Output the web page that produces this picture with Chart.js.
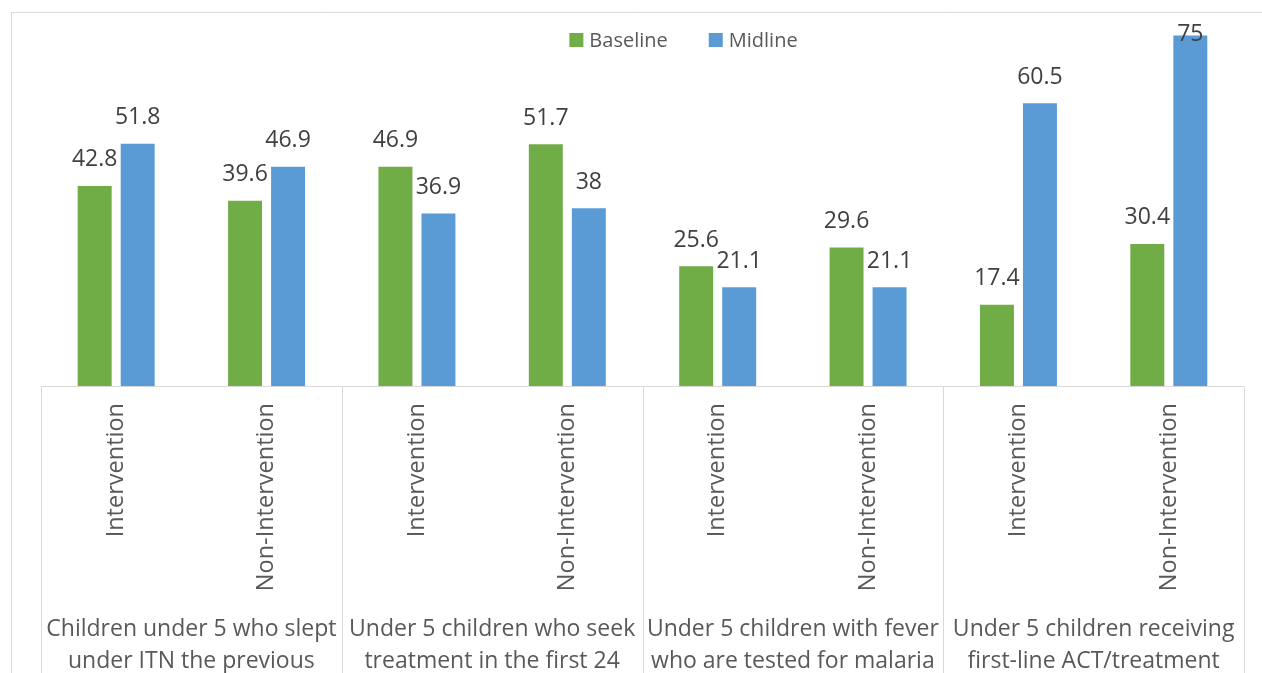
<!DOCTYPE html>
<html>
<head>
<meta charset="utf-8">
<script src="https://cdn.jsdelivr.net/npm/chart.js@4.4.1/dist/chart.umd.min.js"></script>
<style>
  html, body { margin: 0; padding: 0; background: #ffffff; }
  #wrap { width: 1262px; height: 673px; }
</style>
</head>
<body>
<div id="wrap"><canvas id="c" width="1262" height="673"></canvas></div>
<script>
// Indicator groups (two visible lines of each wrapped group title)
const groupTitles = [
  ['Children under 5 who slept', 'under ITN the previous'],
  ['Under 5 children who seek', 'treatment in the first 24'],
  ['Under 5 children with fever', 'who are tested for malaria'],
  ['Under 5 children receiving', 'first-line ACT/treatment']
];
// Area type within each group
const areaTypes = ['Intervention', 'Non-Intervention'];

// Percentages per bar (group-major order: Intervention, Non-Intervention)
const baseline = [42.8, 39.6, 46.9, 51.7, 25.6, 29.6, 17.4, 30.4];
const midline  = [51.8, 46.9, 36.9, 38, 21.1, 21.1, 60.5, 75];

const categories = [];
groupTitles.forEach(() => areaTypes.forEach(t => categories.push(t)));

const FONT = "'Open Sans', 'DejaVu Sans', sans-serif";
const LINE = '#D9D9D9';

// Frame, axis line and group separators
const framePlugin = {
  id: 'frame',
  beforeDraw(chart) {
    const ctx = chart.ctx;
    const area = chart.chartArea;
    const x = chart.scales.x;
    ctx.save();
    ctx.strokeStyle = LINE;
    ctx.lineWidth = 1;
    // outer frame
    ctx.beginPath();
    ctx.moveTo(11.5, chart.height);
    ctx.lineTo(11.5, 12.5);
    ctx.lineTo(chart.width, 12.5);
    ctx.stroke();
    // category axis line
    const yb = Math.round(area.bottom) + 0.5;
    ctx.beginPath();
    ctx.moveTo(area.left, yb);
    ctx.lineTo(area.right, yb);
    // separators between groups
    const per = areaTypes.length;
    for (let g = 0; g <= groupTitles.length; g++) {
      const idx = g * per;
      let px;
      if (idx === 0) px = area.left;
      else if (idx >= categories.length) px = area.right;
      else px = (x.getPixelForValue(idx - 1) + x.getPixelForValue(idx)) / 2;
      px = Math.round(px) + 0.5;
      ctx.moveTo(px, yb);
      ctx.lineTo(px, chart.height);
    }
    ctx.stroke();
    ctx.restore();
  }
};

// Legend drawn inside the plot, near its top
const legendPlugin = {
  id: 'insideLegend',
  afterDraw(chart) {
    const ctx = chart.ctx;
    const box = 14, gap = 6, spacing = 41, cx = 683.5, cy = 40;
    ctx.save();
    ctx.font = '20px ' + FONT;
    const items = chart.data.datasets.map(ds => ({
      text: ds.label, color: ds.backgroundColor, w: ctx.measureText(ds.label).width
    }));
    let total = 0;
    items.forEach((it, i) => { total += box + gap + it.w + (i ? spacing : 0); });
    let x = cx - total / 2;
    ctx.textAlign = 'left';
    ctx.textBaseline = 'middle';
    items.forEach(it => {
      ctx.fillStyle = it.color;
      ctx.fillRect(x, cy - box / 2, box, box);
      ctx.fillStyle = '#595959';
      ctx.fillText(it.text, x + box + gap, cy + 1);
      x += box + gap + it.w + spacing;
    });
    ctx.restore();
  }
};

// Value labels above the bars and the group titles under the axis
const labelPlugin = {
  id: 'valueLabels',
  afterDatasetsDraw(chart) {
    const ctx = chart.ctx;
    const area = chart.chartArea;
    ctx.save();
    ctx.font = '23px ' + FONT;
    ctx.fillStyle = '#404040';
    ctx.textAlign = 'center';
    ctx.textBaseline = 'middle';
    chart.data.datasets.forEach((ds, di) => {
      const meta = chart.getDatasetMeta(di);
      meta.data.forEach((bar, i) => {
        const y = Math.max(bar.y - 26, area.top + 22);
        ctx.fillText(String(ds.data[i]), bar.x, y);
      });
    });

    // group titles
    const x = chart.scales.x;
    const per = areaTypes.length;
    ctx.fillStyle = '#595959';
    ctx.textBaseline = 'alphabetic';
    groupTitles.forEach((lines, g) => {
      const first = x.getPixelForValue(g * per);
      const last = x.getPixelForValue(g * per + per - 1);
      const cx = (first + last) / 2;
      lines.forEach((ln, k) => {
        ctx.fillText(ln, cx, 635.5 + k * 32);
      });
    });
    ctx.restore();
  }
};

new Chart(document.getElementById('c'), {
  type: 'bar',
  data: {
    labels: categories,
    datasets: [
      { label: 'Baseline', data: baseline, backgroundColor: '#70AD47',
        categoryPercentage: 0.572, barPercentage: 0.79 },
      { label: 'Midline', data: midline, backgroundColor: '#5B9BD5',
        categoryPercentage: 0.572, barPercentage: 0.79 }
    ]
  },
  options: {
    responsive: false,
    animation: false,
    layout: { padding: { left: 41, right: 18, top: 12, bottom: 0 } },
    plugins: {
      legend: { display: false },
      tooltip: { enabled: false }
    },
    scales: {
      x: {
        grid: { display: false },
        border: { display: false },
        ticks: {
          autoSkip: false,
          minRotation: 90,
          maxRotation: 90,
          padding: 9,
          color: '#595959',
          font: { family: FONT, size: 23.5 }
        },
        afterFit(scale) { scale.height = 287; }
      },
      y: {
        display: false,
        min: 0,
        max: 80
      }
    }
  },
  plugins: [framePlugin, labelPlugin, legendPlugin]
});
</script>
</body>
</html>
